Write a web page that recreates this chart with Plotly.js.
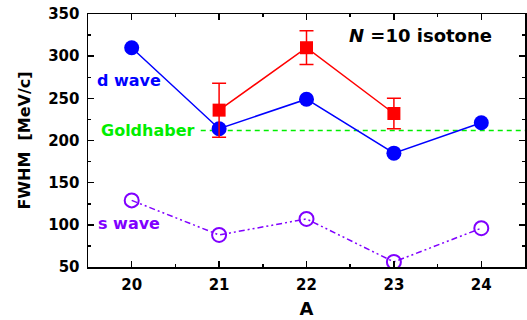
<!DOCTYPE html>
<html><head><meta charset="utf-8">
<script src="https://cdn.plot.ly/plotly-3.0.1.min.js"></script>
<style>html,body{margin:0;padding:0;background:#fff}#chart{width:527px;height:320px}</style>
</head><body><div id="chart"></div>
<script>
const massNumbers = [20, 21, 22, 23, 24];
const dWave = [310, 214, 249, 185, 221];
const sWave = [129, 88, 107, 56, 96];
const expA = [21, 22, 23];
const expFWHM = [236, 310, 232];
const expErr = [32, 20, 18];
const goldhaber = 212;
const xTicks = [20, 21, 22, 23, 24];
const yTicks = [50, 100, 150, 200, 250, 300, 350];

const FONT = 'DejaVu Sans, sans-serif';
const traces = [
  {x: massNumbers, y: sWave, mode: 'lines+markers', type: 'scatter',
   line: {color: '#8000ff', width: 1.5, dash: '6px,3px,2px,3px,2px,3px'},
   marker: {symbol: 'circle-open', size: 14, color: '#8000ff', line: {width: 2, color: '#8000ff'}}},
  {x: massNumbers, y: dWave, mode: 'lines+markers', type: 'scatter',
   line: {color: '#0000ff', width: 1.5},
   marker: {symbol: 'circle', size: 15, color: '#0000ff'}},
  {x: expA, y: expFWHM, mode: 'lines+markers', type: 'scatter',
   line: {color: '#ff0000', width: 1.5},
   marker: {symbol: 'square', size: 13, color: '#ff0000'},
   error_y: {type: 'data', array: expErr, visible: true, color: '#ff0000', thickness: 1.5, width: 7}}
];

const layout = {
  width: 527, height: 320,
  margin: {l: 88, r: 2, t: 14, b: 53},
  paper_bgcolor: '#fff', plot_bgcolor: '#fff',
  showlegend: false,
  font: {family: FONT, color: '#000'},
  xaxis: {range: [19.5, 24.5], tickvals: xTicks, ticktext: xTicks.map(String),
    ticks: 'inside', ticklen: 6, tickwidth: 1.5, tickcolor: '#000',
    minor: {dtick: 0.5, ticks: 'inside', ticklen: 3, tickwidth: 1.5, tickcolor: '#000'},
    showline: true, linecolor: '#000', linewidth: 1.5, mirror: 'ticks',
    showgrid: false, zeroline: false, ticklabelstandoff: 3,
    tickfont: {size: 15, weight: 'bold', family: FONT},
    title: {text: 'A', font: {size: 18, weight: 'bold', family: FONT}, standoff: 10}},
  yaxis: {range: [50, 350], tickvals: yTicks, ticktext: yTicks.map(String),
    ticks: 'inside', ticklen: 6, tickwidth: 1.5, tickcolor: '#000',
    minor: {dtick: 25, ticks: 'inside', ticklen: 3, tickwidth: 1.5, tickcolor: '#000'},
    showline: true, linecolor: '#000', linewidth: 1.5, mirror: 'ticks',
    showgrid: false, zeroline: false, ticklabelstandoff: 4,
    tickfont: {size: 15, weight: 'bold', family: FONT},
    title: {text: 'FWHM  [MeV/c]', font: {size: 16, weight: 'bold', family: FONT}, standoff: 13}},
  shapes: [
    {type: 'line', xref: 'x', yref: 'y', x0: 20.79, x1: 24.5, y0: goldhaber, y1: goldhaber,
     line: {color: '#00ee00', width: 1.5, dash: '5px,4px'}, layer: 'below'}
  ],
  annotations: [
    {x: 19.97, y: 271, xref: 'x', yref: 'y', text: 'd wave', showarrow: false,
     font: {size: 16, weight: 'bold', color: '#0000ff', family: FONT}},
    {x: 20.19, y: goldhaber, xref: 'x', yref: 'y', text: 'Goldhaber', showarrow: false,
     font: {size: 16, weight: 'bold', color: '#00ee00', family: FONT}},
    {x: 19.97, y: 102, xref: 'x', yref: 'y', text: 's wave', showarrow: false,
     font: {size: 16, weight: 'bold', color: '#8000ff', family: FONT}},
    {x: 23.3, y: 324, xref: 'x', yref: 'y', text: '<i>N</i> =10 isotone', showarrow: false,
     font: {size: 18, weight: 'bold', color: '#000', family: FONT}}
  ]
};
Plotly.newPlot('chart', traces, layout, {displayModeBar: false, staticPlot: true});
</script></body></html>
